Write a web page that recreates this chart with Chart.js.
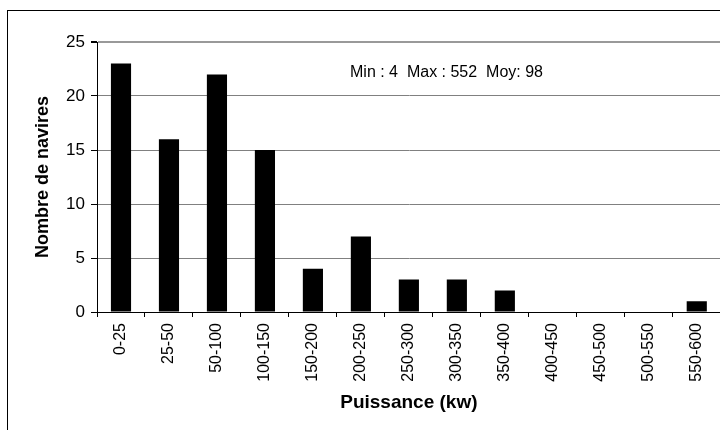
<!DOCTYPE html>
<html>
<head>
<meta charset="utf-8">
<script src="https://cdn.jsdelivr.net/npm/chart.js@4"></script>
<style>
  html, body { margin: 0; padding: 0; background: #fff; overflow: hidden; }
  #frame { position: absolute; left: 7px; top: 10px; width: 800px; height: 500px; border: 1px solid #000; }
  #wrap { position: absolute; left: 0; top: 0; width: 722px; height: 430px; }
</style>
</head>
<body>
<div id="frame"></div>
<div id="wrap"><canvas id="histo"></canvas></div>
<script>
// Classes de puissance et nombre de navires
const classes = ['0-25', '25-50', '50-100', '100-150', '150-200', '200-250', '250-300',
  '300-350', '350-400', '400-450', '450-500', '500-550', '550-600'];
const navires = [23, 16, 22, 15, 4, 7, 3, 3, 2, 0, 0, 0, 1];
const yTicks = [0, 5, 10, 15, 20, 25];
const note = 'Min : 4  Max : 552  Moy: 98';

const FONT = "'Liberation Sans', Arial, sans-serif";

const notePlugin = {
  id: 'note',
  afterDraw(chart) {
    const c = chart.ctx;
    c.save();
    c.font = '16px ' + FONT;
    c.fillStyle = '#000';
    c.textAlign = 'left';
    c.textBaseline = 'middle';
    c.fillText(note, 350, 73);
    c.restore();
  }
};

new Chart(document.getElementById('histo'), {
  type: 'bar',
  data: {
    labels: classes,
    datasets: [{
      data: navires,
      backgroundColor: '#000',
      borderWidth: 0,
      categoryPercentage: 1,
      barPercentage: 0.42
    }]
  },
  options: {
    responsive: true,
    maintainAspectRatio: false,
    animation: false,
    devicePixelRatio: 1,
    layout: { padding: { left: 0, top: 42, right: 1, bottom: 0 } },
    plugins: { legend: { display: false }, tooltip: { enabled: false } },
    scales: {
      x: {
        grid: { offset: true, drawOnChartArea: false, drawTicks: true, tickLength: 5, tickColor: '#000' },
        border: { color: '#000', width: 1 },
        ticks: { color: '#000', font: { family: FONT, size: 16 }, minRotation: 90, maxRotation: 90, padding: 6, autoSkip: false },
        title: { display: true, text: 'Puissance (kw)', color: '#000', font: { family: FONT, size: 19, weight: 'bold' }, padding: { top: 0, bottom: 16 } },
        afterFit: s => { s.height = 118; }
      },
      y: {
        min: 0,
        max: 25,
        afterBuildTicks: s => { s.ticks = yTicks.map(v => ({ value: v })); },
        grid: {
          color: ctx => ctx.tick && ctx.tick.value === 25 ? '#999' : '#808080',
          lineWidth: ctx => ctx.tick && ctx.tick.value === 25 ? 2 : 1,
          tickColor: '#000',
          tickLength: 6
        },
        border: { color: '#000', width: 1 },
        ticks: { color: '#000', font: { family: FONT, size: 17 }, padding: 6 },
        title: { display: true, text: 'Nombre de navires', color: '#000', font: { family: FONT, size: 18, weight: 'bold' }, padding: { top: 32, bottom: 0 } },
        afterFit: s => { s.width = 97; }
      }
    }
  },
  plugins: [notePlugin]
});
</script>
</body>
</html>
